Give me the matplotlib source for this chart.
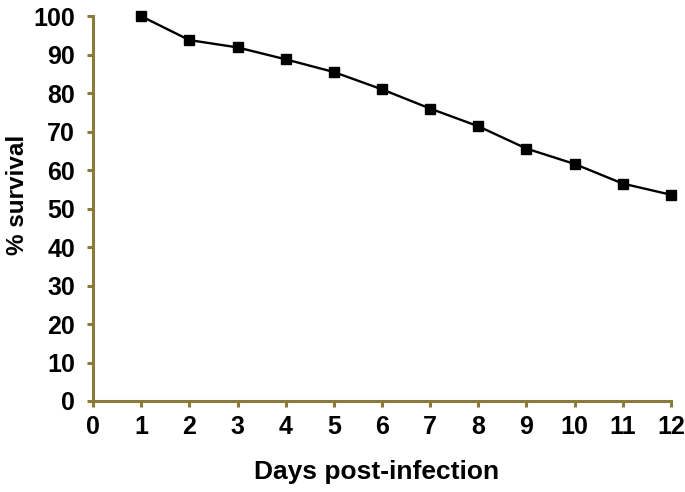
import matplotlib
matplotlib.use("Agg")
import matplotlib.pyplot as plt

days = [1, 2, 3, 4, 5, 6, 7, 8, 9, 10, 11, 12]
survival = [100, 93.8, 91.9, 88.8, 85.5, 81.0, 76.0, 71.4, 65.6, 61.6, 56.5, 53.6]
x_ticks = list(range(0, 13))
y_ticks = list(range(0, 101, 10))

plt.rcParams['font.family'] = ['Liberation Sans', 'DejaVu Sans']
plt.rcParams['font.weight'] = 'bold'

fig = plt.figure(figsize=(6.85, 4.92), dpi=100)
ax = fig.add_axes([0.1358, 0.185, 0.8437, 0.782])

ax.plot(days, survival, color='black', linewidth=1.7, marker='s', markersize=7.5,
        markerfacecolor='black', markeredgecolor='black', clip_on=False, zorder=3)

ax.set_xlim(0, 12)
ax.set_ylim(0, 100)
ax.set_xticks(x_ticks)
ax.set_yticks(y_ticks)

spine_col = '#8B7B3B'
for s in ['top', 'right']:
    ax.spines[s].set_visible(False)
for s in ['left', 'bottom']:
    ax.spines[s].set_color(spine_col)
    ax.spines[s].set_linewidth(2.2)
ax.tick_params(axis='both', direction='out', length=4, width=2.2, color=spine_col,
               labelsize=18)
ax.tick_params(axis='x', pad=6)
ax.tick_params(axis='y', pad=9)
for lbl in ax.get_xticklabels() + ax.get_yticklabels():
    lbl.set_fontweight('bold')

ax.set_xlabel('Days post-infection', fontsize=19, fontweight='bold')
ax.set_ylabel('% survival', fontsize=17.5, fontweight='bold')
ax.xaxis.set_label_coords(0.49, -0.153)
ax.xaxis.label.set_va('top')
ax.yaxis.set_label_coords(-0.110, 0.535)

fig.savefig('out.png', dpi=100)
